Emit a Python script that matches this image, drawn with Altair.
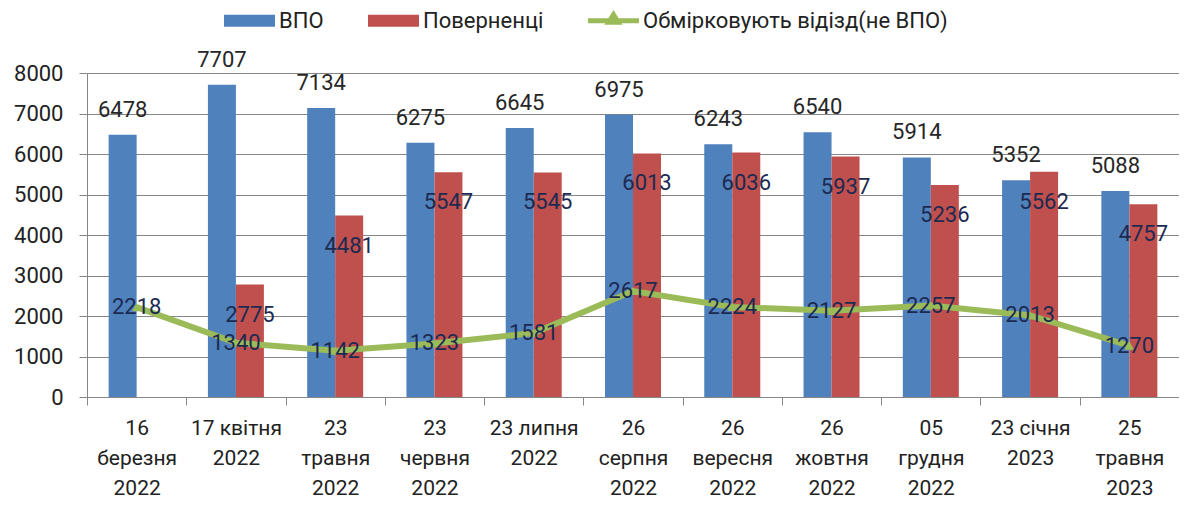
import altair as alt
import pandas as pd

categories = ["16|березня|2022", "17 квітня|2022", "23|травня|2022", "23|червня|2022",
              "23 липня|2022", "26|серпня|2022", "26|вересня|2022", "26|жовтня|2022",
              "05|грудня|2022", "23 січня|2023", "25|травня|2023"]
vpo = [6478, 7707, 7134, 6275, 6645, 6975, 6243, 6540, 5914, 5352, 5088]
returned = [None, 2775, 4481, 5547, 5545, 6013, 6036, 5937, 5236, 5562, 4757]
considering = [2218, 1340, 1142, 1323, 1581, 2617, 2224, 2127, 2257, 2013, 1270]
series = ["ВПО", "Поверненці", "Обмірковують відізд(не ВПО)"]
colors = ["#4F81BD", "#C0504D", "#9BBB59"]

FONT = "Roboto"

rows = []
for c, v, r in zip(categories, vpo, returned):
    rows.append({"cat": c, "series": series[0], "value": v})
    if r is not None:
        rows.append({"cat": c, "series": series[1], "value": r})
bars_df = pd.DataFrame(rows)
line_df = pd.DataFrame({"cat": categories, "value": considering})

x_enc = alt.X(
    "cat:N", sort=categories,
    scale=alt.Scale(paddingInner=0, paddingOuter=0),
    axis=alt.Axis(title=None, labelExpr="split(datum.label, '|')", labelAngle=0,
                  tickBand="extent", labelFont=FONT, labelFontSize=21, labelColor="#222",
                  labelLineHeight=30, labelPadding=12, domainColor="#868686",
                  tickColor="#868686", tickSize=8, grid=False, labelBaseline="top"),
)
y_enc = alt.Y(
    "value:Q", scale=alt.Scale(domain=[0, 8000], nice=False),
    axis=alt.Axis(title=None, values=list(range(0, 8001, 1000)), grid=True, format="d",
                  gridColor="#868686", domainColor="#868686", tickColor="#868686",
                  tickSize=8, labelPadding=16, labelFont=FONT, labelFontSize=22,
                  labelColor="#222"),
)
off_enc = alt.XOffset("series:N", scale=alt.Scale(domain=series[:2], paddingInner=0,
                                                  paddingOuter=0.773))

green_shape = "M-1,-0.1H1V0.1H-1Z M-0.36,0.16L0,-0.42L0.36,0.16Z"
rect_shape = "M-1,-0.24H1V0.24H-1Z"

legend = alt.Legend(
    orient="none", legendX=137, legendY=-78, direction="horizontal", title=None,
    labelFont=FONT, labelFontSize=22, labelColor="#222", labelLimit=0, symbolSize=2601,
    symbolType=alt.ExprRef(expr="datum.value === '" + series[2] + "' ? '" + green_shape
                           + "' : '" + rect_shape + "'"),
    symbolStrokeWidth=0, columnPadding=44, labelOffset=4, symbolOpacity=1,
)

bars = alt.Chart(bars_df).mark_bar(opacity=1).encode(
    x=x_enc, y=y_enc, xOffset=off_enc,
    color=alt.Color("series:N", scale=alt.Scale(domain=series, range=colors), legend=legend),
)

vpo_labels = alt.Chart(bars_df).transform_filter(
    alt.datum.series == series[0]
).mark_text(font=FONT, fontSize=22, color="#262626", baseline="middle", dy=-25).encode(
    x=x_enc, y=y_enc, xOffset=off_enc, text=alt.Text("value:Q", format="d"),
)
ret_labels = alt.Chart(bars_df).transform_filter(
    alt.datum.series == series[1]
).mark_text(font=FONT, fontSize=22, color="#1c2a52", baseline="middle", dy=30).encode(
    x=x_enc, y=y_enc, xOffset=off_enc, text=alt.Text("value:Q", format="d"),
)

line = alt.Chart(line_df).mark_line(color=colors[2], strokeWidth=6).encode(x=x_enc, y=y_enc)
points = alt.Chart(line_df).mark_point(shape="triangle-up", filled=True, size=90,
                                       color=colors[2], opacity=1).encode(x=x_enc, y=y_enc)
line_labels = alt.Chart(line_df).mark_text(font=FONT, fontSize=22, color="#1c2a52",
                                           baseline="middle").encode(
    x=x_enc, y=y_enc, text=alt.Text("value:Q", format="d"),
)

chart = alt.layer(bars, line, points, vpo_labels, ret_labels, line_labels).properties(
    width=1092, height=324,
    autosize=alt.AutoSizeParams(type="none"),
    padding={"left": 79, "top": 65, "right": 0, "bottom": 103},
).configure_view(stroke=None).configure(background="white")

chart.save("out.html", embed_options={"renderer": "svg", "actions": False})
